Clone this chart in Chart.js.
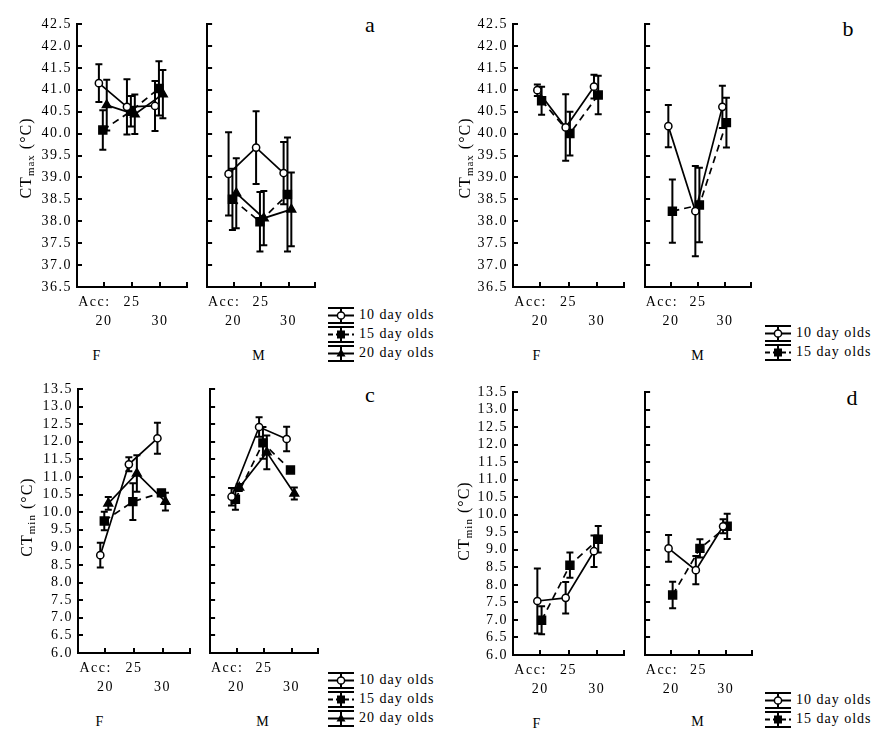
<!DOCTYPE html>
<html>
<head>
<meta charset="utf-8">
<script src="https://cdn.jsdelivr.net/npm/chart.js@4.4.1/dist/chart.umd.min.js"></script>
<style>
  html, body { margin: 0; background: #fff; }
  #page { position: relative; width: 883px; height: 738px; overflow: hidden;
          font-family: "Liberation Serif", "Times New Roman", serif; color: #000; }
  #page canvas { position: absolute; }
  .lbl { position: absolute; white-space: nowrap; transform: translate(-50%, -50%); }
  .letter { font-size: 22px; }
  .sex { font-size: 14px; letter-spacing: 1px; }
  .ytitle { position: absolute; white-space: nowrap; font-size: 16px; letter-spacing: 1px;
            transform: translate(-50%, -50%) rotate(-90deg); }
  .ytitle sub { font-size: 11px; vertical-align: -3px; line-height: 0; }
  .legend { position: absolute; font-size: 14px; letter-spacing: 1px; }
  .legend div { display: flex; align-items: center; height: 19px; }
  .legend svg { margin-right: 5px; flex: none; }
</style>
</head>
<body>
<div id="page"></div>
<script>
/* =========================
   DATA
========================= */

const accTemps = [20, 25, 30];
const ageGroups = ["10 day olds", "15 day olds", "20 day olds"];
const ctmaxRange = [36.5, 42.5];
const ctminRange = [6.0, 13.5];
const tickStep = 0.5;

// a: CTmax, three ages
const aFemale10 = [41.15, 40.61, 40.63];
const aFemale10Err = [0.43, 0.63, 0.57];
const aFemale15 = [40.08, 40.51, 41.03];
const aFemale15Err = [0.45, 0.35, 0.62];
const aFemale20 = [40.65, 40.44, 40.9];
const aFemale20Err = [0.58, 0.45, 0.55];
const aMale10 = [39.08, 39.68, 39.1];
const aMale10Err = [0.95, 0.83, 0.71];
const aMale15 = [38.5, 37.99, 38.61];
const aMale15Err = [0.7, 0.68, 1.3];
const aMale20 = [38.64, 38.07, 38.27];
const aMale20Err = [0.8, 0.62, 0.84];

// b: CTmax, two ages
const bFemale10 = [40.99, 40.14, 41.07];
const bFemale10Err = [0.13, 0.76, 0.27];
const bFemale15 = [40.75, 40.0, 40.88];
const bFemale15Err = [0.32, 0.5, 0.44];
const bMale10 = [40.17, 38.23, 40.61];
const bMale10Err = [0.48, 1.03, 0.48];
const bMale15 = [38.23, 38.37, 40.25];
const bMale15Err = [0.72, 0.85, 0.57];

// c: CTmin, three ages
const cFemale10 = [8.78, 11.36, 12.1];
const cFemale10Err = [0.35, 0.2, 0.44];
const cFemale15 = [9.75, 10.3, 10.55];
const cFemale15Err = [0.26, 0.52, 0.07];
const cFemale20 = [10.25, 11.1, 10.3];
const cFemale20Err = [0.18, 0.52, 0.25];
const cMale10 = [10.44, 12.42, 12.08];
const cMale10Err = [0.25, 0.28, 0.35];
const cMale15 = [10.37, 11.97, 11.2];
const cMale15Err = [0.3, 0.45, 0.07];
const cMale20 = [10.7, 11.7, 10.53];
const cMale20Err = [0.1, 0.48, 0.17];

// d: CTmin, two ages
const dFemale10 = [7.54, 7.63, 8.96];
const dFemale10Err = [0.93, 0.45, 0.45];
const dFemale15 = [6.99, 8.56, 9.3];
const dFemale15Err = [0.4, 0.36, 0.38];
const dMale10 = [9.04, 8.42, 9.67];
const dMale10Err = [0.38, 0.4, 0.2];
const dMale15 = [7.71, 9.04, 9.67];
const dMale15Err = [0.38, 0.26, 0.36];

/* =========================
   STYLE / LAYOUT
========================= */

const xMin = 15.2;
const xMax = 34.8;
const accLabelAt = 18.3;

const seriesStyle = [
  { pointStyle: "circle", radius: 3.6, fill: "#fff", dash: [] },
  { pointStyle: "rect", radius: 5.6, fill: "#000", dash: [7, 5] },
  { pointStyle: "triangle", radius: 5, fill: "#000", dash: [] },
];
const jitter3 = [-0.9, -0.2, 0.5];
const jitter2 = [-0.5, 0.25];

Chart.defaults.font.family = '"Liberation Serif", "Times New Roman", serif';
Chart.defaults.color = "#000";

const page = document.getElementById("page");

const letterSpacing = {
  id: "letterSpacing",
  beforeUpdate(chart) {
    chart.ctx.letterSpacing = "1.5px";
  },
  beforeDraw(chart) {
    chart.ctx.letterSpacing = "1.5px";
  },
};

const errorBars = {
  id: "errorBars",
  beforeDatasetsDraw(chart) {
    const { ctx } = chart;
    const x = chart.scales.x;
    const y = chart.scales.y;
    ctx.save();
    ctx.strokeStyle = "#000";
    ctx.lineWidth = 2;
    chart.data.datasets.forEach((ds) => {
      ds.data.forEach((p, i) => {
        const e = ds.errors[i];
        const px = x.getPixelForValue(p.x);
        const top = y.getPixelForValue(p.y + e);
        const bot = y.getPixelForValue(p.y - e);
        ctx.beginPath();
        ctx.moveTo(px, top);
        ctx.lineTo(px, bot);
        ctx.moveTo(px - 3.5, top);
        ctx.lineTo(px + 3.5, top);
        ctx.moveTo(px - 3.5, bot);
        ctx.lineTo(px + 3.5, bot);
        ctx.stroke();
      });
    });
    ctx.restore();
  },
};

function subplot(box, range, groups, withLabels) {
  const yW = withLabels ? 52 : 4;
  const padT = 10;
  const padR = 8;
  const xH = 52;

  const canvas = document.createElement("canvas");
  canvas.width = yW + box.w + padR;
  canvas.height = padT + box.h + xH;
  canvas.style.left = box.x - yW + "px";
  canvas.style.top = box.y - padT + "px";
  page.appendChild(canvas);

  const jitter = groups.length === 3 ? jitter3 : jitter2;

  const datasets = groups.map(([vals, errs], k) => {
    const st = seriesStyle[k];
    return {
      label: ageGroups[k],
      data: accTemps.map((t, i) => ({ x: t + jitter[k], y: vals[i] })),
      errors: errs,
      showLine: true,
      borderColor: "#000",
      borderWidth: 1.7,
      borderDash: st.dash,
      pointStyle: st.pointStyle,
      pointRadius: st.radius,
      pointBackgroundColor: st.fill,
      pointBorderColor: "#000",
      pointBorderWidth: 1.5,
    };
  });

  const xTickValues = [accLabelAt, ...accTemps, xMax];
  const xTickLabels = [
    ["Acc:", ""],
    ...accTemps.map((t, i) => (i % 2 ? [String(t), ""] : ["", String(t)])),
    "",
  ];

  new Chart(canvas, {
    type: "scatter",
    data: { datasets },
    plugins: [letterSpacing, errorBars],
    options: {
      responsive: false,
      animation: false,
      devicePixelRatio: 1,
      layout: { padding: { top: padT, right: padR, left: 0, bottom: 0 } },
      plugins: { legend: { display: false }, tooltip: { enabled: false } },
      scales: {
        x: {
          type: "linear",
          min: xMin,
          max: xMax,
          afterBuildTicks: (s) => {
            s.ticks = xTickValues.map((v) => ({ value: v }));
          },
          afterFit: (s) => {
            s.height = xH;
            s.paddingLeft = 0;
            s.paddingRight = 0;
          },
          ticks: {
            autoSkip: false,
            maxRotation: 0,
            padding: 11,
            font: { size: 14, lineHeight: 1.33 },
            callback: (v, i) => xTickLabels[i],
          },
          grid: {
            drawOnChartArea: false,
            tickLength: -5,
            lineWidth: 2,
            color: (c) => (c.tick && c.tick.value === accLabelAt ? "rgba(0,0,0,0)" : "#000"),
          },
          border: { display: true, color: "#000", width: 2 },
        },
        y: {
          type: "linear",
          min: range[0],
          max: range[1],
          afterFit: (s) => {
            s.width = yW;
            s.paddingTop = 0;
            s.paddingBottom = 0;
          },
          ticks: {
            stepSize: tickStep,
            autoSkip: false,
            padding: 10,
            font: { size: 14 },
            callback: (v) => (withLabels ? v.toFixed(1) : ""),
          },
          grid: {
            drawOnChartArea: false,
            tickLength: -5,
            lineWidth: 2,
            color: "#000",
          },
          border: { display: true, color: "#000", width: 2 },
        },
      },
    },
  });
}

function addText(cls, html, x, y) {
  const el = document.createElement("div");
  el.className = cls;
  el.innerHTML = html;
  el.style.left = x + "px";
  el.style.top = y + "px";
  page.appendChild(el);
}

function legendIcon(k) {
  const st = seriesStyle[k];
  const dash = st.dash.length ? ' stroke-dasharray="5 3"' : "";
  let marker;
  if (st.pointStyle === "circle") {
    marker = '<circle cx="13" cy="9.5" r="3.6" fill="#fff" stroke="#000" stroke-width="1.5"/>';
  } else if (st.pointStyle === "rect") {
    marker = '<rect x="9" y="5.5" width="8" height="8" fill="#000"/>';
  } else {
    marker = '<path d="M13 4.5 L17.5 12.5 L8.5 12.5 Z" fill="#000"/>';
  }
  return (
    '<svg width="26" height="19" viewBox="0 0 26 19">' +
    '<path d="M0 2H26M0 17H26M13 2V17" stroke="#000" stroke-width="2"/>' +
    '<path d="M0 9.5H26" stroke="#000" stroke-width="2"' + dash + "/>" +
    marker +
    "</svg>"
  );
}

function addLegend(count, x, y) {
  const el = document.createElement("div");
  el.className = "legend";
  el.style.left = x + "px";
  el.style.top = y + "px";
  el.innerHTML = ageGroups
    .slice(0, count)
    .map((name, k) => "<div>" + legendIcon(k) + "<span>" + name + "</span></div>")
    .join("");
  page.appendChild(el);
}

/* =========================
   PANELS
========================= */

// a
subplot({ x: 77, y: 24, w: 110, h: 263 }, ctmaxRange,
  [[aFemale10, aFemale10Err], [aFemale15, aFemale15Err], [aFemale20, aFemale20Err]], true);
subplot({ x: 204, y: 24, w: 111, h: 263 }, ctmaxRange,
  [[aMale10, aMale10Err], [aMale15, aMale15Err], [aMale20, aMale20Err]], false);

// b
subplot({ x: 513, y: 24, w: 111, h: 263 }, ctmaxRange,
  [[bFemale10, bFemale10Err], [bFemale15, bFemale15Err]], true);
subplot({ x: 642, y: 24, w: 109, h: 263 }, ctmaxRange,
  [[bMale10, bMale10Err], [bMale15, bMale15Err]], false);

// c
subplot({ x: 78, y: 389, w: 112, h: 264 }, ctminRange,
  [[cFemale10, cFemale10Err], [cFemale15, cFemale15Err], [cFemale20, cFemale20Err]], true);
subplot({ x: 207, y: 389, w: 111, h: 264 }, ctminRange,
  [[cMale10, cMale10Err], [cMale15, cMale15Err], [cMale20, cMale20Err]], false);

// d
subplot({ x: 513, y: 392, w: 111, h: 263 }, ctminRange,
  [[dFemale10, dFemale10Err], [dFemale15, dFemale15Err]], true);
subplot({ x: 642, y: 392, w: 110, h: 263 }, ctminRange,
  [[dMale10, dMale10Err], [dMale15, dMale15Err]], false);

/* =========================
   TEXT
========================= */

addText("lbl letter", "a", 370, 25);
addText("lbl letter", "b", 848, 29);
addText("lbl letter", "c", 370, 395);
addText("lbl letter", "d", 852, 398);

addText("ytitle", "CT<sub>max</sub> (°C)", 26, 158);
addText("ytitle", "CT<sub>max</sub> (°C)", 465, 158);
addText("ytitle", "CT<sub>min</sub> (°C)", 27, 517);
addText("ytitle", "CT<sub>min</sub> (°C)", 464, 521);

addText("lbl sex", "F", 97, 356);
addText("lbl sex", "M", 259, 356);
addText("lbl sex", "F", 537, 356);
addText("lbl sex", "M", 698, 356);
addText("lbl sex", "F", 100, 722);
addText("lbl sex", "M", 263, 722);
addText("lbl sex", "F", 537, 724);
addText("lbl sex", "M", 698, 722);

addLegend(3, 328, 305.5);
addLegend(2, 765, 323.5);
addLegend(3, 328, 670.5);
addLegend(2, 765, 690.5);
</script>
</body>
</html>
